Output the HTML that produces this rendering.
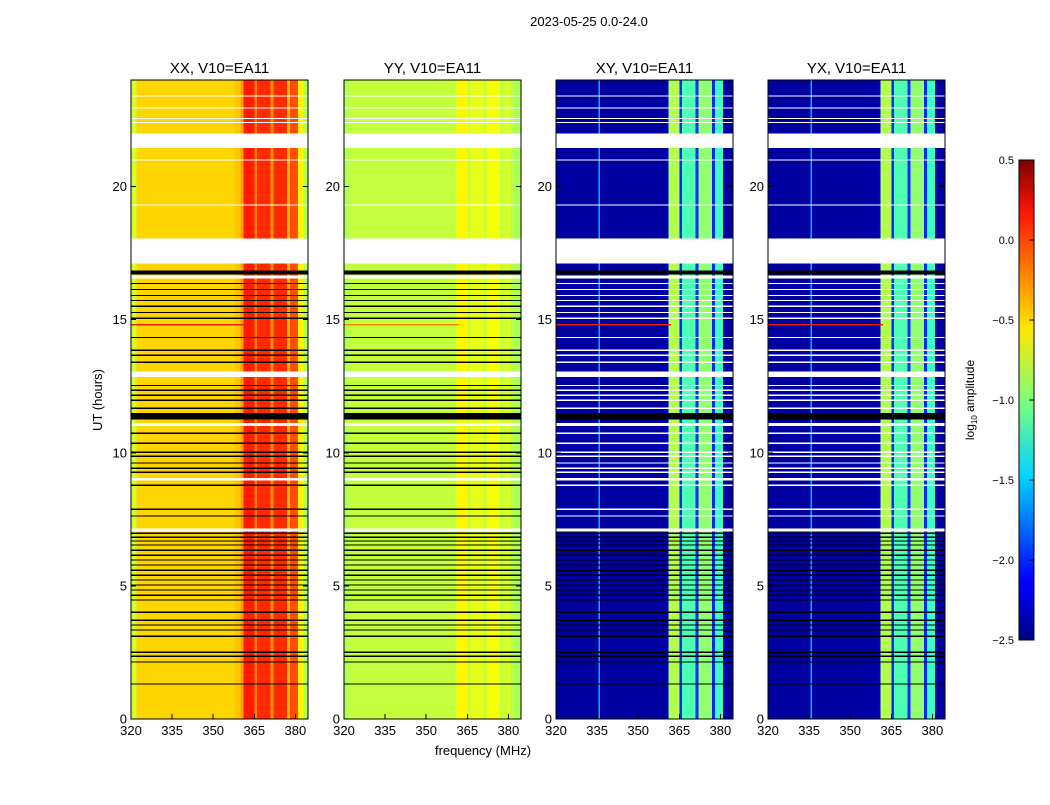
<!DOCTYPE html>
<html><head><meta charset="utf-8"><style>
body{margin:0;background:#fff;font-family:"Liberation Sans",sans-serif;}
svg text{font-family:"Liberation Sans",sans-serif;}
</style></head><body>
<svg id="fig" width="1050" height="800" xmlns="http://www.w3.org/2000/svg">
<text x="589" y="26" font-size="13" text-anchor="middle">2023-05-25 0.0-24.0</text>
<text transform="translate(102,400) rotate(-90)" font-size="13" text-anchor="middle">UT (hours)</text>
<text x="483" y="755" font-size="13" text-anchor="middle">frequency (MHz)</text>
<defs><linearGradient id="jet" x1="0" y1="1" x2="0" y2="0">
<stop offset="0" stop-color="#00007f"/><stop offset="0.11" stop-color="#0000ff"/><stop offset="0.125" stop-color="#0000ff"/><stop offset="0.34" stop-color="#00d4ff"/><stop offset="0.5" stop-color="#7dff7a"/><stop offset="0.65" stop-color="#ffe600"/><stop offset="0.89" stop-color="#ff1500"/><stop offset="1" stop-color="#7f0000"/></linearGradient></defs>
<g id="cbar">
<rect x="1019" y="160" width="15" height="480" fill="url(#jet)" stroke="#000" stroke-width="1"/>
</g>
<text transform="translate(974,400) rotate(-90)" font-size="12" text-anchor="middle">log<tspan font-size="8" dy="3">10</tspan><tspan dy="-3"> amplitude</tspan></text>
</svg>
<script>
const freqEdges=[320,322,324,326,328,330,332,334,335.5,336,338,340,342,344,346,348,350,352,354,356,358,360,361,365,366,371,372,377,378,381,383,385];
const xxProfile=[-0.75,-0.5,-0.5,-0.5,-0.5,-0.5,-0.5,-0.5,-0.5,-0.5,-0.5,-0.5,-0.5,-0.5,-0.5,-0.5,-0.5,-0.5,-0.5,-0.5,-0.45,-0.35,0.05,-0.25,0.0,-0.3,0.0,-0.4,-0.1,-0.6,-0.85];
const yyProfile=[-0.85,-0.8,-0.8,-0.8,-0.8,-0.8,-0.8,-0.8,-0.8,-0.8,-0.8,-0.8,-0.8,-0.8,-0.8,-0.8,-0.8,-0.8,-0.8,-0.8,-0.8,-0.8,-0.6,-0.8,-0.7,-0.8,-0.65,-0.8,-0.75,-0.85,-0.88];
const xyProfile=[-2.4,-2.4,-2.4,-2.4,-2.4,-2.4,-2.4,-2.4,-1.6,-2.4,-2.4,-2.4,-2.4,-2.4,-2.4,-2.4,-2.4,-2.4,-2.4,-2.4,-2.4,-2.3,-0.85,-2.0,-1.15,-2.0,-0.95,-2.0,-1.2,-2.4,-2.4];
const yxProfile=[-2.4,-2.4,-2.4,-2.4,-2.4,-2.4,-2.4,-2.4,-1.6,-2.4,-2.4,-2.4,-2.4,-2.4,-2.4,-2.4,-2.4,-2.4,-2.4,-2.4,-2.4,-2.3,-0.85,-2.0,-1.15,-2.0,-0.95,-2.0,-1.2,-2.4,-2.4];
const panelTitles=["XX, V10=EA11","YY, V10=EA11","XY, V10=EA11","YX, V10=EA11"];
const whiteGaps=[[21.45,22.0],[17.1,18.05],[16.55,16.65],[12.85,13.05],[11.0,11.12],[8.95,9.05],[7.05,7.15]];
const blackBands=[[16.7,16.85],[11.25,11.5]];
const flagLines=[23.4,22.95,22.55,22.4,21.0,19.3,16.36,16.13,15.91,15.72,15.5,15.27,15.05,14.33,13.85,13.66,13.4,12.53,12.35,12.16,11.97,11.67,10.73,10.36,10.02,9.87,9.61,9.42,9.27,8.78,7.88,7.62,6.98,6.83,6.68,6.53,6.34,6.15,5.97,5.78,5.59,5.4,5.22,5.03,4.84,4.65,4.47,4.01,3.71,3.53,3.34,3.11,2.51,2.36,2.14,1.31];
const yTicks=[0,5,10,15,20];
const xTicks=[320,335,350,365,380];
const cbarTicks=[0.5,0.0,-0.5,-1.0,-1.5,-2.0,-2.5];
const cbarLabels=["0.5","0.0","\u22120.5","\u22121.0","\u22121.5","\u22122.0","\u22122.5"];

const NS="http://www.w3.org/2000/svg";
const svg=document.getElementById('fig');
const panelX=[131,344,556,768], PW=177, PT=80, PB=719;
const profiles=[xxProfile,yyProfile,xyProfile,yxProfile];
const whiteAbove=[17,17,7.2,7.2];
function jet(v){let t=Math.max(0,Math.min(1,(v+2.5)/3));
 const r=Math.max(0,Math.min(1,1.5-Math.abs(4*t-3))),g=Math.max(0,Math.min(1,1.5-Math.abs(4*t-2))),b=Math.max(0,Math.min(1,1.5-Math.abs(4*t-1)));
 return `rgb(${Math.round(r*255)},${Math.round(g*255)},${Math.round(b*255)})`;}
function mk(tag,attrs,parent){const e=document.createElementNS(NS,tag);for(const k in attrs)e.setAttribute(k,attrs[k]);(parent||svg).appendChild(e);return e;}
const fScale=(x0,f)=>x0+(f-320)*2.74;
const tScale=h=>PB-(h/24)*(PB-PT);
panelX.forEach((x0,pi)=>{
 const g=mk('g',{'shape-rendering':'crispEdges'});
 
 
 profiles[pi].forEach((v,i)=>{const xa=fScale(x0,freqEdges[i]),xb=Math.min(x0+PW,fScale(x0,freqEdges[i+1]));
  if(xb<=xa)return;
  const r=mk('rect',{x:xa,y:PT,width:xb-xa+0.6,height:PB-PT,fill:jet(v)},g);
  
  });
 whiteGaps.forEach(([a,b])=>{const r=mk('rect',{x:x0,y:tScale(b),width:PW,height:tScale(a)-tScale(b),fill:'#fff'},g);
  
  });
 blackBands.forEach(([a,b])=>{const r=mk('rect',{x:x0,y:tScale(b),width:PW,height:tScale(a)-tScale(b),fill:'#000'},g);
  
  });
 flagLines.forEach(h=>{const l=mk('line',{x1:x0,x2:x0+PW,y1:tScale(h),y2:tScale(h),stroke:h>whiteAbove[pi]?'#fff':'#000','stroke-width':1.2},g);
  
  });
 const rl=mk('line',{x1:x0,x2:x0+PW*0.65,y1:tScale(14.8),y2:tScale(14.8),stroke:pi==1?'#f80':'#e82000','stroke-width':1.5},g);
 
 
 const fr=mk('rect',{x:x0,y:PT,width:PW,height:PB-PT,fill:'none',stroke:'#000','stroke-width':1},g);
 
 
 const tt=mk('text',{x:x0+PW/2,y:73,'font-size':15,'text-anchor':'middle'},svg);tt.textContent=panelTitles[pi];
 
 
 yTicks.forEach(h=>{const y=tScale(h);
  mk('line',{x1:x0,x2:x0+5,y1:y,y2:y,stroke:'#000'},g);mk('line',{x1:x0+PW-5,x2:x0+PW,y1:y,y2:y,stroke:'#000'},g);
  const t=mk('text',{x:x0-4,y:y+4.5,'font-size':13,'text-anchor':'end'},svg);t.textContent=h;
  
  });
 xTicks.forEach(f=>{const x=fScale(x0,f);
  mk('line',{x1:x,x2:x,y1:PB,y2:PB-5,stroke:'#000'},g);
  const t=mk('text',{x:x,y:PB+16,'font-size':13,'text-anchor':'middle'},svg);t.textContent=f;
  
  });
});
const cb=document.getElementById('cbar');
cbarTicks.forEach((v,i)=>{const y=640-(v+2.5)/3*480;
 mk('line',{x1:1029,x2:1034,y1:y,y2:y,stroke:'#000'},cb);
 const t=mk('text',{x:1014,y:y+4,'font-size':11,'text-anchor':'end'},cb);t.textContent=cbarLabels[i];
 
 });
</script>
</body></html>
